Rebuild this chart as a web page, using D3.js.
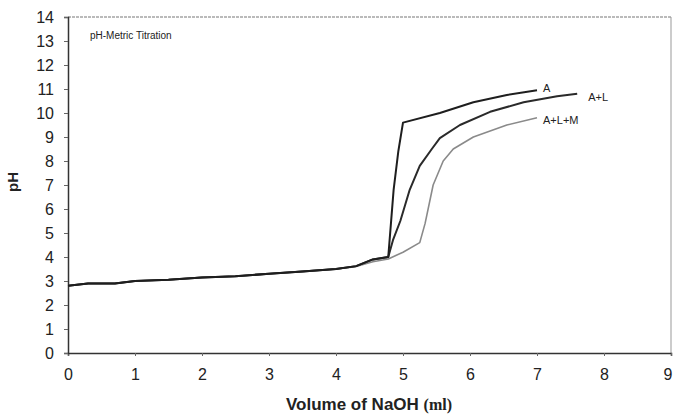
<!DOCTYPE html>
<html>
<head>
<meta charset="utf-8">
<script src="https://cdn.jsdelivr.net/npm/d3@7"></script>
<style>
  body { margin: 0; background: #fff; }
  svg { display: block; font-family: "Liberation Sans", Arial, sans-serif; }
</style>
</head>
<body>
<div id="chart"></div>
<script>
// volumes (ml) and pH readings for each titration curve
var volA = [0, 0.3, 0.7, 1, 1.5, 2, 2.5, 3, 3.5, 4, 4.3, 4.55, 4.78, 4.86, 4.93, 5.0, 5.55, 6.05, 6.55, 7.0]
var phA = [2.8, 2.9, 2.9, 3.0, 3.05, 3.15, 3.2, 3.3, 3.4, 3.5, 3.62, 3.9, 4.0, 6.8, 8.4, 9.6, 10.0, 10.45, 10.75, 10.95]

var volAL = [0, 0.3, 0.7, 1, 1.5, 2, 2.5, 3, 3.5, 4, 4.3, 4.55, 4.78, 4.85, 4.96, 5.1, 5.25, 5.43, 5.55, 5.85, 6.3, 6.8, 7.3, 7.6]
var phAL = [2.8, 2.9, 2.9, 3.0, 3.05, 3.15, 3.2, 3.3, 3.4, 3.5, 3.62, 3.9, 4.0, 4.7, 5.5, 6.8, 7.8, 8.5, 8.95, 9.5, 10.05, 10.45, 10.7, 10.8]

var volALM = [0, 0.3, 0.7, 1, 1.5, 2, 2.5, 3, 3.5, 4, 4.3, 4.55, 4.78, 5.0, 5.25, 5.33, 5.45, 5.6, 5.75, 6.05, 6.55, 7.0]
var phALM = [2.8, 2.9, 2.9, 3.0, 3.05, 3.15, 3.2, 3.3, 3.4, 3.5, 3.6, 3.8, 3.92, 4.2, 4.6, 5.4, 7.0, 8.0, 8.5, 9.0, 9.5, 9.8]

var seriesNames = ["A", "A+L", "A+L+M"]
var xTicks = [0, 1, 2, 3, 4, 5, 6, 7, 8, 9]
var yTicks = [0, 1, 2, 3, 4, 5, 6, 7, 8, 9, 10, 11, 12, 13, 14]

var width = 673, height = 417
var margin = { top: 17, right: 1, bottom: 64, left: 68 }
var w = width - margin.left - margin.right,
    h = height - margin.top - margin.bottom

var svg = d3.select("#chart").append("svg")
    .attr("width", width)
    .attr("height", height)

var g = svg.append("g")
    .attr("transform", "translate(" + margin.left + "," + margin.top + ")")

var x = d3.scaleLinear().domain([0, 9]).range([0, 603])
var y = d3.scaleLinear().domain([0, 14]).range([h, 0])

// frame (top and right edges are lighter)
g.append("line")
    .attr("x1", 0).attr("x2", x(9)).attr("y1", 0).attr("y2", 0)
    .attr("stroke", "#777").attr("stroke-width", 1.2).attr("stroke-dasharray", "3,1")
g.append("line")
    .attr("x1", x(9)).attr("x2", x(9)).attr("y1", 0).attr("y2", h)
    .attr("stroke", "#999").attr("stroke-width", 1)

var xAxis = g.append("g")
    .attr("transform", "translate(0," + h + ")")
    .call(d3.axisBottom(x).tickValues(xTicks).tickSize(3).tickPadding(13).tickFormat(d3.format("d")))
var yAxis = g.append("g")
    .call(d3.axisLeft(y).tickValues(yTicks).tickSize(4).tickPadding(10).tickFormat(d3.format("d")))

;[xAxis, yAxis].forEach(function (a) {
    a.select(".domain").attr("stroke", "#333").attr("stroke-width", 1.5)
    a.selectAll(".tick line").attr("stroke", "#666")
    a.selectAll("text")
        .attr("font-family", "Liberation Sans, Arial, sans-serif")
        .attr("font-size", 16)
        .attr("fill", "#222")
})
// last x label sits against the right edge, keep it inside the window
xAxis.selectAll(".tick text").filter(function (d) { return d === 9 })
    .attr("text-anchor", "end").attr("dx", "0.05em")

var line = d3.line()
    .x(function (d) { return x(d[0]) })
    .y(function (d) { return y(d[1]) })

var series = [
    { name: seriesNames[0], data: d3.zip(volA, phA), color: "#1e1e1e", sw: 2 },
    { name: seriesNames[1], data: d3.zip(volAL, phAL), color: "#2a2a2a", sw: 2 },
    { name: seriesNames[2], data: d3.zip(volALM, phALM), color: "#8a8a8a", sw: 1.6 }
]

// draw grey one first so dark lines sit on top
series.slice().reverse().forEach(function (s) {
    g.append("path")
        .datum(s.data)
        .attr("fill", "none")
        .attr("stroke", s.color)
        .attr("stroke-width", s.sw)
        .attr("stroke-linejoin", "round")
        .attr("d", line)
})

// curve labels next to the last point
var labelOffset = [[6, 2], [11, 7], [6, 6]]
series.forEach(function (s, i) {
    var last = s.data[s.data.length - 1]
    g.append("text")
        .attr("x", x(last[0]) + labelOffset[i][0])
        .attr("y", y(last[1]) + labelOffset[i][1])
        .attr("font-size", 11)
        .attr("fill", "#222")
        .text(s.name)
})

g.append("text")
    .attr("x", 22).attr("y", 22)
    .attr("font-size", 10)
    .attr("fill", "#222")
    .text("pH-Metric Titration")

// axis titles
var xt = svg.append("text")
    .attr("x", 369).attr("y", 410)
    .attr("text-anchor", "middle")
    .attr("font-weight", "bold")
    .attr("fill", "#222")
xt.append("tspan").attr("font-size", 17).text("Volume of NaOH ")
xt.append("tspan").attr("font-size", 16)
    .attr("font-family", "Liberation Serif, Times New Roman, serif")
    .text("(ml)")

svg.append("text")
    .attr("transform", "translate(18,182) rotate(-90)")
    .attr("text-anchor", "middle")
    .attr("font-weight", "bold")
    .attr("font-size", 15)
    .attr("fill", "#222")
    .text("pH")
</script>
</body>
</html>
